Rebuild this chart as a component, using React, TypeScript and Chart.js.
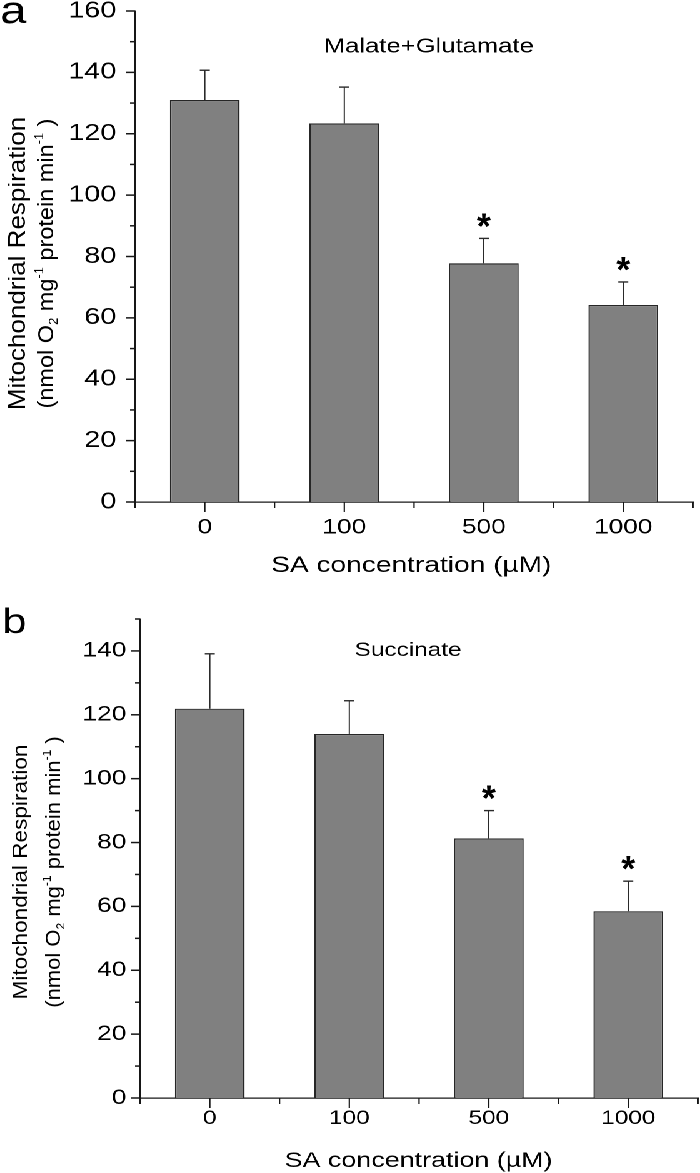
import React, { useEffect, useRef } from 'react';
import { Chart, registerables } from 'chart.js';

Chart.register(...registerables);

// ---------- data ----------
const categories = ['0', '100', '500', '1000'];
const malateMeans = [131.0, 123.4, 77.8, 64.2];
const malateErrors = [9.7, 11.8, 8.1, 7.5];
const succinateMeans = [121.9, 114.0, 81.3, 58.5];
const succinateErrors = [17.2, 10.4, 8.7, 9.4];
const significant = [false, false, true, true];
const yTicksA = [0, 20, 40, 60, 80, 100, 120, 140, 160];
const yTicksB = [0, 20, 40, 60, 80, 100, 120, 140];
const yMaxA = 160;
const yMaxB = 150;
const yMinorStep = 10;

// ---------- style ----------
const FONT = "'Liberation Sans', Arial, Helvetica, sans-serif";
const S = 1.25; // horizontal stretch of the reference typography
const W = 560;
const AXIS = '#161616';
const BAR_FILL = '#808080';
const BAR_EDGE = '#262626';

type Layout = {
  height: number; axisLeft: number; padTop: number; padRight: number; xAxisHeight: number;
  xTickPad: number; xTickSize: number; yTickPad: number; yTickSize: number;
  letterX: number; letterBase: number; letterSize: number;
  titleX: number; titleBase: number; titleSize: number;
  xTitleX: number; xTitleBase: number; xTitleSize: number;
  yT1X: number; yT1Size: number; yT2X: number; yT2Size: number; yTCenter: number;
};

type Panel = {
  letter: string; title: string; means: number[]; errors: number[];
  yMax: number; yTicks: number[]; layout: Layout;
};

const xTitle = 'SA concentration (\u00B5M)';
const yTitle1 = 'Mitochondrial Respiration';
const yTitle2 = [
  { t: '(nmol O' }, { t: '2', sub: true }, { t: ' mg' }, { t: '-1', sup: true },
  { t: ' protein min' }, { t: '-1', sup: true }, { t: ' )' },
];

const panelA: Panel = {
  letter: 'a', title: 'Malate+Glutamate', means: malateMeans, errors: malateErrors,
  yMax: yMaxA, yTicks: yTicksA,
  layout: {
    height: 580, axisLeft: 108, padTop: 11, padRight: 5.6, xAxisHeight: 78,
    xTickPad: 13, xTickSize: 21, yTickPad: 15, yTickSize: 23,
    letterX: 0, letterBase: 23, letterSize: 38,
    titleX: 343, titleBase: 52.5, titleSize: 20.5,
    xTitleX: 329, xTitleBase: 572, xTitleSize: 22.5,
    yT1X: 20, yT1Size: 26, yT2X: 42.4, yT2Size: 23.5, yTCenter: 263.5,
  },
};

const panelB: Panel = {
  letter: 'b', title: 'Succinate', means: succinateMeans, errors: succinateErrors,
  yMax: yMaxB, yTicks: yTicksB,
  layout: {
    height: 593, axisLeft: 112, padTop: 39, padRight: 1.6, xAxisHeight: 75,
    xTickPad: 9, xTickSize: 19.5, yTickPad: 11, yTickSize: 21,
    letterX: 1.7, letterBase: 53, letterSize: 35,
    titleX: 326.4, titleBase: 76, titleSize: 19.5,
    xTitleX: 334.8, xTitleBase: 587, xTitleSize: 21.5,
    yT1X: 21.6, yT1Size: 22.6, yT2X: 48, yT2Size: 22, yTCenter: 292,
  },
};

function drawRotated(ctx: CanvasRenderingContext2D, segs: any[], bx: number, cy: number, size: number, kx: number) {
  ctx.save();
  ctx.translate(bx, cy);
  ctx.scale(kx, 1);
  ctx.rotate(-Math.PI / 2);
  ctx.textAlign = 'left';
  ctx.textBaseline = 'alphabetic';
  const fs = (s: any) => (s.sub || s.sup ? size * 0.55 : size);
  let total = 0;
  segs.forEach((s) => { ctx.font = `${fs(s)}px ${FONT}`; total += ctx.measureText(s.t).width; });
  let x = -total / 2;
  segs.forEach((s) => {
    ctx.font = `${fs(s)}px ${FONT}`;
    const dy = s.sub ? size * 0.2 : s.sup ? -size * 0.45 : 0;
    ctx.fillText(s.t, x, dy);
    x += ctx.measureText(s.t).width;
  });
  ctx.restore();
}

function makeDecor(p: Panel) {
  const L = p.layout;
  return {
    id: 'decor',
    afterDraw(chart: any) {
      const ctx: CanvasRenderingContext2D = chart.ctx;
      const ca = chart.chartArea;
      const xs = chart.scales.x;
      const ys = chart.scales.y;
      ctx.save();
      ctx.strokeStyle = AXIS;
      // y ticks (major + minor, outward)
      ctx.lineWidth = 1.5;
      for (let v = 0; v <= p.yMax + 1e-9; v += yMinorStep) {
        const y = ys.getPixelForValue(v);
        const len = p.yTicks.includes(v) ? 7.2 : 4;
        ctx.beginPath(); ctx.moveTo(ca.left - len, y); ctx.lineTo(ca.left, y); ctx.stroke();
      }
      // x ticks
      ctx.lineWidth = 1.1;
      const n = categories.length;
      const centers = categories.map((_, i) => xs.getPixelForValue(i));
      const half = n > 1 ? (centers[1] - centers[0]) / 2 : (ca.right - ca.left) / 2;
      centers.forEach((c) => {
        ctx.beginPath(); ctx.moveTo(c, ca.bottom); ctx.lineTo(c, ca.bottom + 10); ctx.stroke();
      });
      for (let i = 0; i <= n; i++) {
        const bxp = i === 0 ? centers[0] - half : centers[i - 1] + half;
        ctx.beginPath(); ctx.moveTo(bxp, ca.bottom); ctx.lineTo(bxp, ca.bottom + 6); ctx.stroke();
      }
      // error bars + significance marks
      ctx.strokeStyle = '#2a2a2a';
      p.means.forEach((m, i) => {
        const x = centers[i];
        const y0 = ys.getPixelForValue(m);
        const y1 = ys.getPixelForValue(m + p.errors[i]);
        ctx.lineWidth = 1.0;
        ctx.beginPath(); ctx.moveTo(x, y0); ctx.lineTo(x, y1); ctx.stroke();
        ctx.lineWidth = 1.4;
        ctx.beginPath(); ctx.moveTo(x - 4, y1); ctx.lineTo(x + 4, y1); ctx.stroke();
        if (significant[i]) {
          ctx.save();
          ctx.translate(x, y1);
          ctx.scale(0.8, 1);
          ctx.fillStyle = '#000';
          ctx.font = `bold 36px ${FONT}`;
          ctx.textAlign = 'center';
          ctx.textBaseline = 'alphabetic';
          ctx.fillText('*', 0, 0);
          ctx.restore();
        }
      });
      // texts
      ctx.fillStyle = '#000';
      ctx.textBaseline = 'alphabetic';
      ctx.textAlign = 'left';
      ctx.font = `${L.letterSize}px ${FONT}`;
      ctx.fillText(p.letter, L.letterX, L.letterBase);
      ctx.textAlign = 'center';
      ctx.font = `${L.titleSize}px ${FONT}`;
      ctx.fillText(p.title, L.titleX, L.titleBase);
      ctx.font = `${L.xTitleSize}px ${FONT}`;
      ctx.fillText(xTitle, L.xTitleX, L.xTitleBase);
      drawRotated(ctx, [{ t: yTitle1 }], L.yT1X, L.yTCenter, L.yT1Size, 0.75);
      drawRotated(ctx, yTitle2, L.yT2X, L.yTCenter, L.yT2Size, 0.75);
      ctx.restore();
    },
  };
}

function buildConfig(p: Panel): any {
  const L = p.layout;
  return {
    type: 'bar',
    data: {
      labels: categories,
      datasets: [{
        data: p.means,
        backgroundColor: BAR_FILL,
        borderColor: BAR_EDGE,
        borderWidth: 1.2,
        borderSkipped: 'start',
        barPercentage: 0.5,
        categoryPercentage: 1,
      }],
    },
    options: {
      animation: false,
      responsive: true,
      maintainAspectRatio: false,
      devicePixelRatio: 2,
      events: [],
      layout: { padding: { left: 0, top: L.padTop, right: L.padRight, bottom: 0 } },
      plugins: { legend: { display: false }, tooltip: { enabled: false }, title: { display: false } },
      scales: {
        x: {
          type: 'category',
          offset: true,
          grid: { display: false, drawTicks: false, offset: true },
          border: { display: true, color: AXIS, width: 1.2 },
          ticks: { color: '#000', font: { family: FONT, size: L.xTickSize }, padding: L.xTickPad, autoSkip: false, maxRotation: 0 },
          afterFit: (s: any) => { s.height = L.xAxisHeight; s.paddingLeft = 0; s.paddingRight = 0; },
        },
        y: {
          type: 'linear',
          min: 0,
          max: p.yMax,
          grid: { display: false, drawTicks: false },
          border: { display: true, color: AXIS, width: 1.5 },
          ticks: { color: '#000', font: { family: FONT, size: L.yTickSize }, padding: L.yTickPad },
          afterBuildTicks: (s: any) => { s.ticks = p.yTicks.map((v) => ({ value: v })); },
          afterFit: (s: any) => { s.width = L.axisLeft; s.paddingTop = 0; s.paddingBottom = 0; },
        },
      },
    },
    plugins: [makeDecor(p)],
  };
}

export default function App() {
  const refA = useRef<HTMLCanvasElement>(null);
  const refB = useRef<HTMLCanvasElement>(null);
  useEffect(() => {
    const a = new Chart(refA.current as HTMLCanvasElement, buildConfig(panelA));
    const b = new Chart(refB.current as HTMLCanvasElement, buildConfig(panelB));
    return () => { a.destroy(); b.destroy(); };
  }, []);
  return (
    <div style={{
      position: 'absolute', left: 0, top: 0, width: W, height: 1173,
      transform: `scaleX(${S})`, transformOrigin: '0 0', background: '#fff',
    }}>
      <div style={{ position: 'relative', width: W, height: panelA.layout.height }}>
        <canvas ref={refA} />
      </div>
      <div style={{ position: 'relative', width: W, height: panelB.layout.height }}>
        <canvas ref={refB} />
      </div>
    </div>
  );
}
